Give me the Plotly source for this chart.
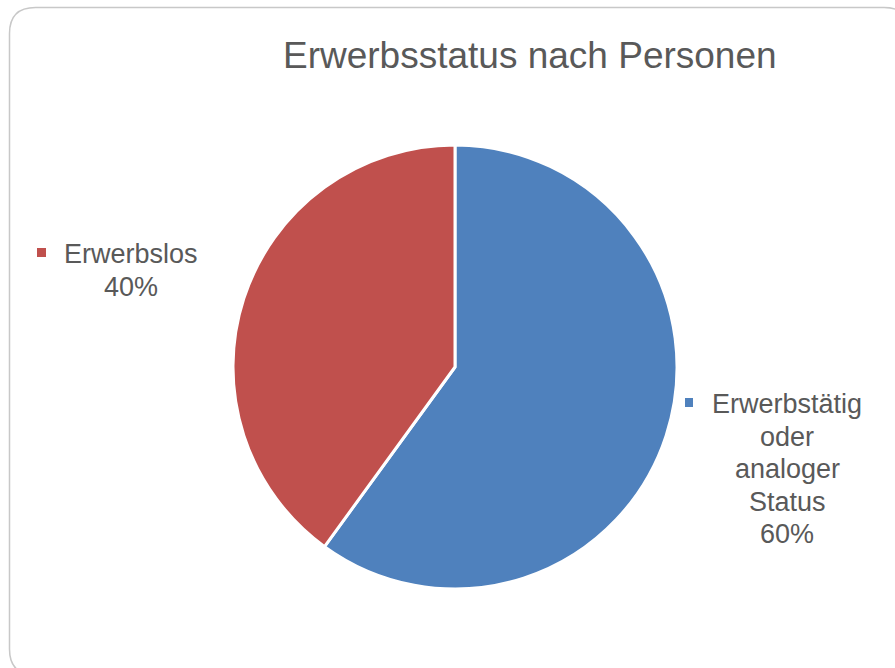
import plotly.graph_objects as go

W, H = 895, 668

# ---- data ----
labels = ["Erwerbstätig<br>oder<br>analoger<br>Status", "Erwerbslos"]
values = [60, 40]
colors = ["#4F81BD", "#C0504D"]
title_text = "Erwerbsstatus nach Personen"

FONT = "Liberation Sans, Arial, sans-serif"
TXT = "#595959"

def px(x):
    return x / W

def py(y):
    return 1 - y / H

fig = go.Figure()
fig.add_trace(go.Pie(
    labels=labels,
    values=values,
    sort=False,
    direction="clockwise",
    rotation=0,
    marker=dict(colors=colors, line=dict(color="white", width=3)),
    textinfo="none",
    hoverinfo="label+percent",
    showlegend=False,
    domain=dict(x=[px(233), px(677)], y=[py(589), py(145)]),
))

total = sum(values)
# label placement (layout positions): centre x, first-line centre y, marker box
placements = [
    dict(cx=787, y0=404, mk=(685, 398, 693, 407)),
    dict(cx=131, y0=254, mk=(37, 248, 46, 257)),
]
LS = 32.5
annotations = []
shapes = []
for lab, val, col, pl in zip(labels, values, colors, placements):
    pct = round(100 * val / total)
    lines = lab.split("<br>") + [f"{pct}%"]
    for i, ln in enumerate(lines):
        annotations.append(dict(
            x=px(pl["cx"]), y=py(pl["y0"] + i * LS), xref="paper", yref="paper",
            xanchor="center", yanchor="middle", align="center",
            text=ln, showarrow=False,
            font=dict(family=FONT, size=27, color=TXT),
        ))
    x0, y0, x1, y1 = pl["mk"]
    shapes.append(dict(type="rect", xref="paper", yref="paper",
                       x0=px(x0), x1=px(x1), y0=py(y1), y1=py(y0),
                       fillcolor=col, line=dict(width=0)))

# rounded border
L, T, R, B, r = 9.5, 7.5, 910, 675, 26
path = (f"M {px(L)},{py(T + r)} Q {px(L)},{py(T)} {px(L + r)},{py(T)} "
        f"L {px(R - r)},{py(T)} Q {px(R)},{py(T)} {px(R)},{py(T + r)} "
        f"L {px(R)},{py(B - r)} Q {px(R)},{py(B)} {px(R - r)},{py(B)} "
        f"L {px(L + r)},{py(B)} Q {px(L)},{py(B)} {px(L)},{py(B - r)} Z")
shapes.append(dict(type="path", xref="paper", yref="paper", path=path,
                   line=dict(color="#C8C8C8", width=1.5), fillcolor="rgba(0,0,0,0)",
                   layer="below"))

annotations.append(dict(
    x=px(530), y=py(55), xref="paper", yref="paper",
    xanchor="center", yanchor="middle", text=title_text, showarrow=False,
    font=dict(family=FONT, size=37, color=TXT),
))

fig.update_layout(
    width=W, height=H, autosize=False,
    margin=dict(l=0, r=0, t=0, b=0),
    paper_bgcolor="white", plot_bgcolor="white",
    annotations=annotations, shapes=shapes,
)

fig.write_html("out.html", config={"displayModeBar": False},
               post_script="document.body.style.margin='0';document.body.style.overflow='hidden';")
